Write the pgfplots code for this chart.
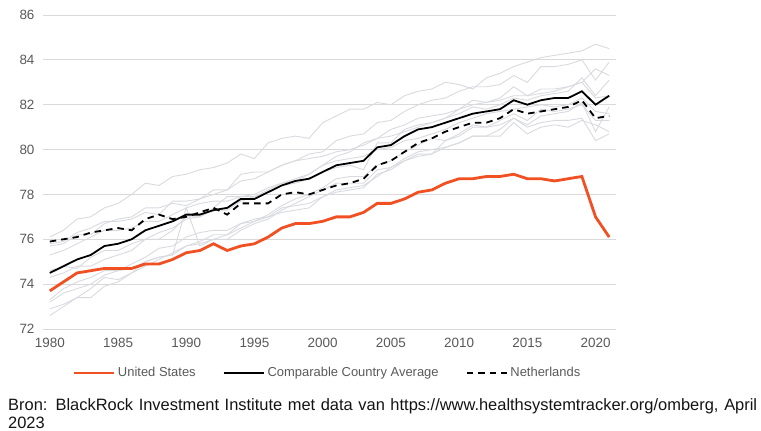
\documentclass[border=0pt]{standalone}
\usepackage{fontspec}
\setmainfont{Liberation Sans}
\usepackage{pgfplots}
\pgfplotsset{compat=1.18}
\usepackage{pgfplotstable}
\definecolor{usorange}{RGB}{240,80,34}
\definecolor{gridgray}{RGB}{217,217,217}
\definecolor{linegray}{RGB}{216,218,224}
\definecolor{ticktext}{RGB}{89,89,89}
\definecolor{srctext}{RGB}{20,20,20}

\pgfplotstableread{
year US AVG NL JP CH AU SE FR CA AT BE DE UK
1980 73.7 74.5 75.9 76.1 75.7 74.6 75.8 74.3 75.3 72.6 73.3 72.9 73.2
1981 74.1 74.8 76.0 76.4 75.8 74.8 75.9 74.5 75.5 73.0 73.8 73.1 73.6
1982 74.5 75.1 76.1 76.9 76.2 74.7 76.3 74.8 75.8 73.4 74.1 73.4 73.8
1983 74.6 75.3 76.3 77.0 76.2 75.2 76.5 74.8 76.1 73.4 74.3 73.8 74.0
1984 74.7 75.7 76.4 77.4 76.7 75.5 76.8 75.1 76.4 73.9 74.6 74.3 74.4
1985 74.7 75.8 76.5 77.6 76.9 75.5 76.8 75.3 76.4 74.1 74.6 74.2 74.6
1986 74.7 76.0 76.4 78.0 77.0 75.8 76.9 75.5 76.5 74.5 74.9 74.5 74.7
1987 74.9 76.4 76.9 78.5 77.4 76.0 77.2 76.0 76.8 74.8 75.2 75.0 75.0
1988 74.9 76.6 77.1 78.4 77.4 76.0 77.1 76.3 76.8 75.1 75.6 75.2 75.2
1989 75.1 76.8 76.9 78.8 77.6 76.4 77.7 76.5 77.1 75.4 75.7 75.3 75.3
1990 75.4 77.1 77.0 78.9 77.5 77.0 77.7 76.9 77.4 75.7 76.1 77.4 75.7
1991 75.5 77.1 77.2 79.1 77.8 77.0 77.8 77.0 77.6 75.8 76.3 75.7 75.9
1992 75.8 77.3 77.4 79.2 78.0 77.4 78.2 77.3 77.7 76.0 76.4 76.0 76.2
1993 75.5 77.4 77.1 79.4 78.2 77.9 78.2 77.3 77.7 76.2 76.4 76.0 76.2
1994 75.7 77.8 77.6 79.8 78.6 77.9 78.9 77.7 77.9 76.5 76.7 76.4 76.7
1995 75.8 77.8 77.6 79.6 78.7 77.9 79.0 77.9 78.0 76.8 76.9 76.7 76.8
1996 76.1 78.1 77.6 80.3 79.0 78.2 79.0 78.1 78.3 77.1 77.0 76.9 77.0
1997 76.5 78.4 78.0 80.5 79.3 78.5 79.3 78.4 78.5 77.5 77.4 77.3 77.2
1998 76.7 78.6 78.1 80.6 79.5 78.7 79.5 78.5 78.6 77.8 77.5 77.6 77.3
1999 76.7 78.7 78.0 80.5 79.8 78.9 79.6 78.7 78.9 78.0 77.6 77.9 77.4
2000 76.8 79.0 78.2 81.2 79.9 79.3 79.7 79.0 79.3 78.3 77.9 78.2 77.9
2001 77.0 79.3 78.4 81.5 80.4 79.7 79.9 79.2 79.5 78.7 78.1 78.5 78.2
2002 77.0 79.4 78.5 81.8 80.6 79.9 80.0 79.3 79.6 78.8 78.2 78.5 78.3
2003 77.2 79.5 78.7 81.8 80.7 80.3 80.2 79.1 79.7 78.8 78.3 78.5 78.4
2004 77.6 80.1 79.3 82.1 81.2 80.5 80.5 80.3 80.0 79.3 78.9 79.1 78.8
2005 77.6 80.2 79.5 82.0 81.3 80.9 80.6 80.3 80.1 79.5 79.1 79.2 79.2
2006 77.8 80.6 79.9 82.4 81.7 81.1 80.8 80.9 80.4 79.9 79.5 79.6 79.5
2007 78.1 80.9 80.3 82.6 82.0 81.4 81.0 81.1 80.5 80.2 79.8 79.9 79.7
2008 78.2 81.0 80.5 82.7 82.2 81.5 81.2 81.2 80.7 80.5 79.8 80.0 79.8
2009 78.5 81.2 80.8 83.0 82.3 81.6 81.4 81.4 80.9 80.4 80.1 80.1 80.4
2010 78.7 81.4 81.0 82.9 82.6 81.8 81.6 81.8 81.2 80.7 80.3 80.3 80.6
2011 78.7 81.6 81.2 82.7 82.8 82.0 81.9 82.2 81.4 81.1 80.6 80.6 81.0
2012 78.8 81.7 81.2 83.2 82.8 82.1 81.8 82.1 81.6 81.0 80.6 80.6 81.0
2013 78.8 81.8 81.4 83.4 82.9 82.2 82.0 82.3 81.7 81.3 80.9 80.6 81.1
2014 78.9 82.2 81.8 83.7 83.3 82.4 82.3 82.8 81.8 81.6 81.4 81.2 81.4
2015 78.7 82.0 81.6 83.9 83.0 82.4 82.2 82.4 81.9 81.3 81.1 80.7 81.0
2016 78.7 82.2 81.7 84.1 83.7 82.5 82.4 82.7 82.0 81.8 81.5 81.0 81.2
2017 78.6 82.3 81.8 84.2 83.7 82.6 82.5 82.7 81.9 81.7 81.6 81.1 81.3
2018 78.7 82.3 81.9 84.3 83.8 82.8 82.6 82.8 82.0 81.8 81.7 81.0 81.3
2019 78.8 82.6 82.2 84.4 84.0 83.0 83.2 83.0 82.3 82.0 82.1 81.3 81.4
2020 77.0 82.0 81.4 84.7 83.1 83.6 82.4 82.3 81.7 81.3 80.8 81.1 80.4
2021 76.1 82.4 81.5 84.5 83.9 83.3 83.1 82.4 81.6 81.3 81.9 80.8 80.7
}\lifedata

\begin{document}
\begin{tikzpicture}
\begin{axis}[
  at={(0bp,0bp)}, anchor=south west,
  scale only axis, width=573bp, height=314bp,
  xmin=1979.5, xmax=2021.5, ymin=72, ymax=86,
  xtick={1980,1985,...,2020}, ytick={72,74,...,86},
  /pgf/number format/1000 sep={},
  /pgf/number format/assume math mode=true,
  axis line style={draw=none},
  major tick length=0pt,
  ymajorgrids, grid style={gridgray, line width=0.9bp},
  tick label style={font=\fontsize{13.5}{15}\selectfont, text=ticktext},
  yticklabel style={xshift=-5bp},
  xticklabel style={yshift=-6bp},
  clip=false,
  legend style={at={(0.0506,-0.140)}, anchor=west, draw=none, fill=none,
    inner xsep=0pt, inner ysep=0pt,
    legend columns=3, font=\fontsize{13}{15}\selectfont, text=ticktext,
    /tikz/every even column/.append style={column sep=24bp},
    nodes={inner xsep=3bp}},
  legend image code/.code={\draw[#1] (0bp,0bp) -- (40bp,0bp);},
]
\foreach \c in {JP,CH,AU,SE,FR,CA,AT,BE,DE,UK}{
  \addplot[linegray, line width=0.9bp, forget plot] table[x=year, y=\c] {\lifedata};
}
\addplot[usorange, line width=2.8bp] table[x=year, y=US] {\lifedata};
\addlegendentry{United States}
\addplot[black, line width=1.8bp] table[x=year, y=AVG] {\lifedata};
\addlegendentry{Comparable Country Average}
\addplot[black, line width=1.8bp, dash pattern=on 6.5bp off 5bp] table[x=year, y=NL] {\lifedata};
\addlegendentry{Netherlands}
\end{axis}
\node[anchor=base west, inner sep=0pt, font=\fontsize{16.5}{19}\selectfont, text=srctext] at (-35bp,-81.3bp)
  {\makebox[749bp][s]{Bron: BlackRock Investment Institute met data van https://www.healthsystemtracker.org/omberg, April}};
\node[anchor=base west, inner sep=0pt, font=\fontsize{16.5}{19}\selectfont, text=srctext] at (-35bp,-99.3bp) {2023};
\pgfresetboundingbox
\path[use as bounding box] (-43bp,-102bp) rectangle (718bp,329bp);
\end{tikzpicture}
\end{document}
